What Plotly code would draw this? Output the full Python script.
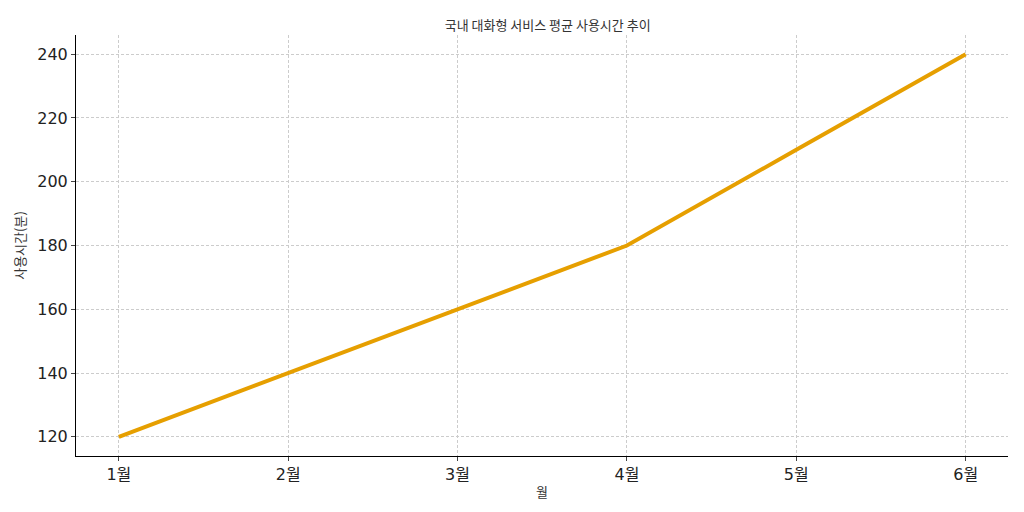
import plotly.graph_objects as go

months = ["1월", "2월", "3월", "4월", "5월", "6월"]
month_pos = [1, 2, 3, 4, 5, 6]
usage = [120, 140, 160, 180, 210, 240]

fig = go.Figure(go.Scatter(
    x=month_pos, y=usage, mode="lines",
    line=dict(color="#E69F00", width=4),
))

grid = dict(showgrid=True, gridcolor="#cccccc", griddash="3px,2px", gridwidth=1,
            linecolor="black", showline=True, ticks="outside", ticklen=4,
            tickfont=dict(size=16, color="#222", family="DejaVu Sans, Noto Sans CJK KR"),
            zeroline=False)

fig.update_layout(
    width=1024, height=512,
    plot_bgcolor="white", paper_bgcolor="white",
    font=dict(family="Noto Sans CJK KR, DejaVu Sans", color="#333"),
    title=dict(text="국내 대화형 서비스 평균 사용시간 추이", x=0.527, y=0.975,
               xanchor="center", font=dict(size=13)),
    margin=dict(l=64, r=24, t=27, b=64),
    showlegend=False,
    xaxis=dict(grid, tickvals=month_pos, ticktext=months, range=[0.747, 6.25],
               title=dict(text="월", font=dict(size=13), standoff=4)),
    yaxis=dict(grid, range=[114, 246], tickvals=[120, 140, 160, 180, 200, 220, 240],
               title=dict(text="사용시간(분)", font=dict(size=13), standoff=8)),
)

fig.write_html("out.html")
